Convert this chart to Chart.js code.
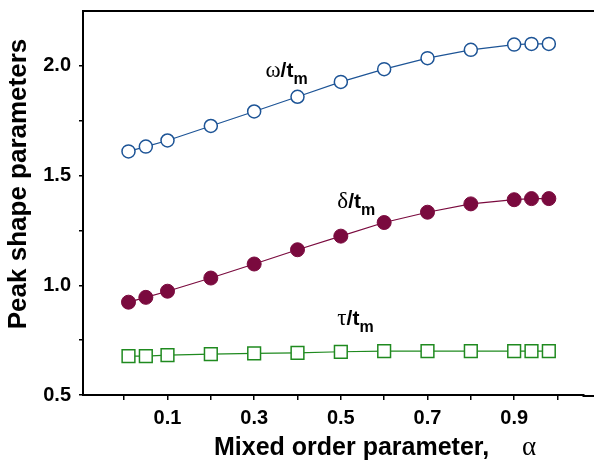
<!DOCTYPE html>
<html>
<head>
<meta charset="utf-8">
<script src="https://cdn.jsdelivr.net/npm/chart.js@4.4.0/dist/chart.umd.min.js"></script>
<style>
  html, body { margin: 0; padding: 0; background: #fff; overflow: hidden; }
</style>
</head>
<body>
<canvas id="myChart" width="594" height="461"></canvas>
<script>
// mixed order parameter alpha
var alphaVals = [0.01, 0.05, 0.1, 0.2, 0.3, 0.4, 0.5, 0.6, 0.7, 0.8, 0.9, 0.94, 0.98];
// omega / tm
var omegaVals = [1.61, 1.632, 1.66, 1.726, 1.792, 1.859, 1.927, 1.985, 2.035, 2.073, 2.097, 2.1, 2.1];
// delta / tm
var deltaVals = [0.923, 0.945, 0.973, 1.033, 1.097, 1.162, 1.224, 1.286, 1.333, 1.371, 1.39, 1.395, 1.395];
// tau / tm
var tauVals = [0.677, 0.677, 0.682, 0.686, 0.69, 0.692, 0.697, 0.7, 0.7, 0.7, 0.7, 0.7, 0.7];

var xTicks = [0, 0.1, 0.2, 0.3, 0.4, 0.5, 0.6, 0.7, 0.8, 0.9, 1.0];
var xLabels = [0.1, 0.3, 0.5, 0.7, 0.9];
var yTicks = [0.5, 0.75, 1.0, 1.25, 1.5, 1.75, 2.0];
var yLabels = [0.5, 1.0, 1.5, 2.0];

// curve labels: [greek, x, y]
var curveLabels = [
  ['\u03c9', 0.326, 1.95],
  ['\u03b4', 0.492, 1.35],
  ['\u03c4', 0.492, 0.818]
];

function pts(ys) {
  return alphaVals.map(function (a, i) { return { x: a, y: ys[i] }; });
}

var sans = 'Liberation Sans, Arial, Helvetica, sans-serif';
var serif = 'Liberation Serif, Times New Roman, serif';

var extras = {
  id: 'extras',
  afterDraw: function (chart) {
    var ctx = chart.ctx;
    var area = chart.chartArea;
    var xs = chart.scales.x, ys = chart.scales.y;
    ctx.save();
    // top frame line, and bottom axis carried to the edge
    ctx.strokeStyle = '#000';
    ctx.lineWidth = 2;
    ctx.beginPath();
    ctx.moveTo(area.left - 1, area.top);
    ctx.lineTo(chart.width, area.top);
    ctx.moveTo(area.right - 1, area.bottom + 1);
    ctx.lineTo(chart.width, area.bottom + 1);
    ctx.stroke();

    // curve labels
    ctx.fillStyle = '#000';
    ctx.textBaseline = 'alphabetic';
    ctx.textAlign = 'left';
    curveLabels.forEach(function (l) {
      var px = xs.getPixelForValue(l[1]);
      var py = ys.getPixelForValue(l[2]);
      ctx.font = '23px ' + serif;
      ctx.fillText(l[0], px, py);
      var w = ctx.measureText(l[0]).width;
      ctx.font = 'bold 21px ' + sans;
      ctx.fillText('/t', px + w, py);
      var w2 = ctx.measureText('/t').width;
      ctx.font = 'bold 16px ' + sans;
      ctx.fillText('m', px + w + w2, py + 7);
    });

    // y title
    ctx.save();
    ctx.translate(19, 184);
    ctx.rotate(-Math.PI / 2);
    ctx.textAlign = 'center';
    ctx.textBaseline = 'middle';
    ctx.font = 'bold 26px ' + sans;
    ctx.fillText('Peak shape parameters', 0, 0);
    ctx.restore();

    // x title
    ctx.textAlign = 'left';
    ctx.textBaseline = 'alphabetic';
    ctx.font = 'bold 25px ' + sans;
    ctx.fillText('Mixed order parameter,', 214, 455);
    ctx.font = '27px ' + serif;
    ctx.fillText('\u03b1', 522, 455);
    ctx.restore();
  }
};

var ctx = document.getElementById('myChart').getContext('2d');
var myChart = new Chart(ctx, {
  type: 'scatter',
  data: {
    datasets: [
      {
        label: 'omega/tm',
        data: pts(omegaVals),
        showLine: true,
        borderColor: '#1d5496',
        borderWidth: 1.2,
        pointStyle: 'circle',
        pointRadius: 6.5,
        pointBorderWidth: 1.5,
        pointBackgroundColor: '#fff',
        pointBorderColor: '#1d5496'
      },
      {
        label: 'delta/tm',
        data: pts(deltaVals),
        showLine: true,
        borderColor: '#7a0a3e',
        borderWidth: 1.2,
        pointStyle: 'circle',
        pointRadius: 7,
        pointBorderWidth: 1,
        pointBackgroundColor: '#7a0a3e',
        pointBorderColor: '#7a0a3e'
      },
      {
        label: 'tau/tm',
        data: pts(tauVals),
        showLine: true,
        borderColor: '#1f8a1f',
        borderWidth: 1.2,
        pointStyle: 'rect',
        pointRadius: 9,
        pointBorderWidth: 1.5,
        pointBackgroundColor: '#fff',
        pointBorderColor: '#1f8a1f'
      }
    ]
  },
  options: {
    responsive: false,
    animation: false,
    layout: { padding: { top: 11, left: 0, right: 0, bottom: 0 } },
    plugins: {
      legend: { display: false },
      tooltip: { enabled: false }
    },
    scales: {
      x: {
        type: 'linear',
        min: -0.095,
        max: 1.06,
        afterBuildTicks: function (scale) {
          scale.ticks = xTicks.map(function (v) { return { value: v }; });
        },
        afterFit: function (scale) {
          scale.height = 66;
          scale.paddingLeft = 0;
          scale.paddingRight = 0;
        },
        ticks: {
          color: '#000',
          padding: 6,
          maxRotation: 0,
          autoSkip: false,
          font: { family: sans, size: 20, weight: 'bold' },
          callback: function (v) {
            var hit = xLabels.some(function (l) { return Math.abs(l - v) < 1e-6; });
            return hit ? v.toFixed(1) : '';
          }
        },
        grid: { drawOnChartArea: false, color: '#000', tickLength: 5, lineWidth: 1.5 },
        border: { color: '#000', width: 2 }
      },
      y: {
        type: 'linear',
        min: 0.5,
        max: 2.25,
        afterBuildTicks: function (scale) {
          scale.ticks = yTicks.map(function (v) { return { value: v }; });
        },
        afterFit: function (scale) {
          scale.width = 83;
          scale.paddingTop = 0;
          scale.paddingBottom = 0;
        },
        ticks: {
          color: '#000',
          padding: 8,
          autoSkip: false,
          font: { family: sans, size: 20, weight: 'bold' },
          callback: function (v) {
            var hit = yLabels.some(function (l) { return Math.abs(l - v) < 1e-6; });
            return hit ? v.toFixed(1) : '';
          }
        },
        grid: { drawOnChartArea: false, color: '#000', tickLength: 4, lineWidth: 1.5 },
        border: { color: '#000', width: 2 }
      }
    }
  },
  plugins: [extras]
});
</script>
</body>
</html>
